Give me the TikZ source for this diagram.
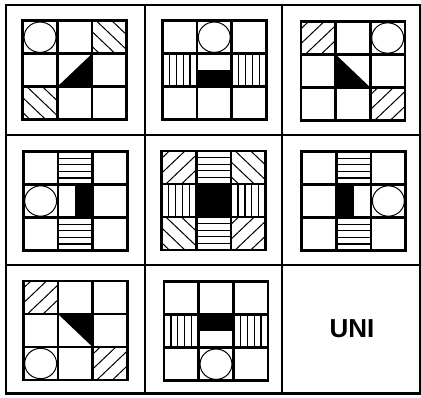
\documentclass[tikz,border=0pt]{standalone}
\usepackage{fontspec}
\newfontfamily\unifont{Liberation Sans}
\tikzset{
  gl/.style={line width=2.6pt},
  ht/.style={line width=1pt},
  st/.style={line width=1.2pt},
  circ/.style={line width=1pt},
  frameline/.style={line width=2.6pt},
}
\newcommand\hbk[2]{\begin{scope}\clip (#1,#2) rectangle ++(1,1);
  \foreach \k in {-2,...,2}{\draw[ht] ({#1+\k*0.45+0.12},#2) -- ++(1,1);}\end{scope}}
\newcommand\hfw[2]{\begin{scope}\clip (#1,#2) rectangle ++(1,1);
  \foreach \k in {-2,...,2}{\draw[ht] ({#1+\k*0.45+0.12},{#2+1}) -- ++(1,-1);}\end{scope}}
\newcommand\vst[2]{\foreach \k in {1,...,4}{\draw[st] ({#1+\k/5},#2) -- ++(0,1);}}
\newcommand\hst[2]{\foreach \k in {1,...,4}{\draw[st] (#1,{#2+\k/5}) -- ++(1,0);}}
\newcommand\circl[2]{\draw[circ] ({#1+0.5},{#2+0.5}) ellipse [x radius=0.46, y radius=0.46];}
\newcommand\mypanel[3]{\begin{scope}[shift={(#1,#2)}, x=34.67pt, y=-33pt]
  #3
  \draw[gl] (0,0) rectangle (3,3) (1,0)--(1,3) (2,0)--(2,3) (0,1)--(3,1) (0,2)--(3,2);
\end{scope}}
\begin{document}
\begin{tikzpicture}[x=1pt,y=-1pt]
\useasboundingbox (0,0) rectangle (421,397);
\fill[white] (0,0) rectangle (421,397);
% outer table
\draw[frameline] (6,5) rectangle (420,393.5);
\draw[frameline] (145,5) -- (145,393.5) (282,5) -- (282,393.5)
  (6,135) -- (420,135) (6,265) -- (420,265);
% panel 1
\mypanel{22.7}{20.7}{
  \circl{0}{0} \hbk{2}{0} \hbk{0}{2}
  \fill (1,2) -- (2,2) -- (2,1) -- cycle;
}
% panel 2
\mypanel{162.3}{20.7}{
  \circl{1}{0} \vst{0}{1} \vst{2}{1}
  \fill (1,1.5) rectangle (2,2);
}
% panel 3
\mypanel{301}{21.5}{
  \hfw{0}{0} \circl{2}{0} \hfw{2}{2}
  \fill (1,1) -- (1,2) -- (2,2) -- cycle;
}
% panel 4
\mypanel{23.3}{151.5}{
  \hst{1}{0} \circl{0}{1} \hst{1}{2}
  \fill (1.5,1) rectangle (2,2);
}
% panel 5
\mypanel{161.7}{151}{
  \hfw{0}{0} \hst{1}{0} \hbk{2}{0}
  \vst{0}{1} \vst{2}{1}
  \hbk{0}{2} \hst{1}{2} \hfw{2}{2}
  \fill (1,1) rectangle (2,2);
}
% panel 6
\mypanel{301.7}{151.5}{
  \hst{1}{0} \circl{2}{1} \hst{1}{2}
  \fill (1,1) rectangle (1.5,2);
}
% panel 7
\mypanel{23.3}{281}{
  \hfw{0}{0} \circl{0}{2} \hfw{2}{2}
  \fill (1,1) -- (2,1) -- (2,2) -- cycle;
}
% panel 8
\mypanel{164}{281.7}{
  \vst{0}{1} \vst{2}{1} \circl{1}{2}
  \fill (1,1) rectangle (2,1.5);
}
\node[inner sep=0pt] (uni) at (352,329) {\unifont\bfseries\fontsize{26}{30}\selectfont UNI};
\end{tikzpicture}
\end{document}
